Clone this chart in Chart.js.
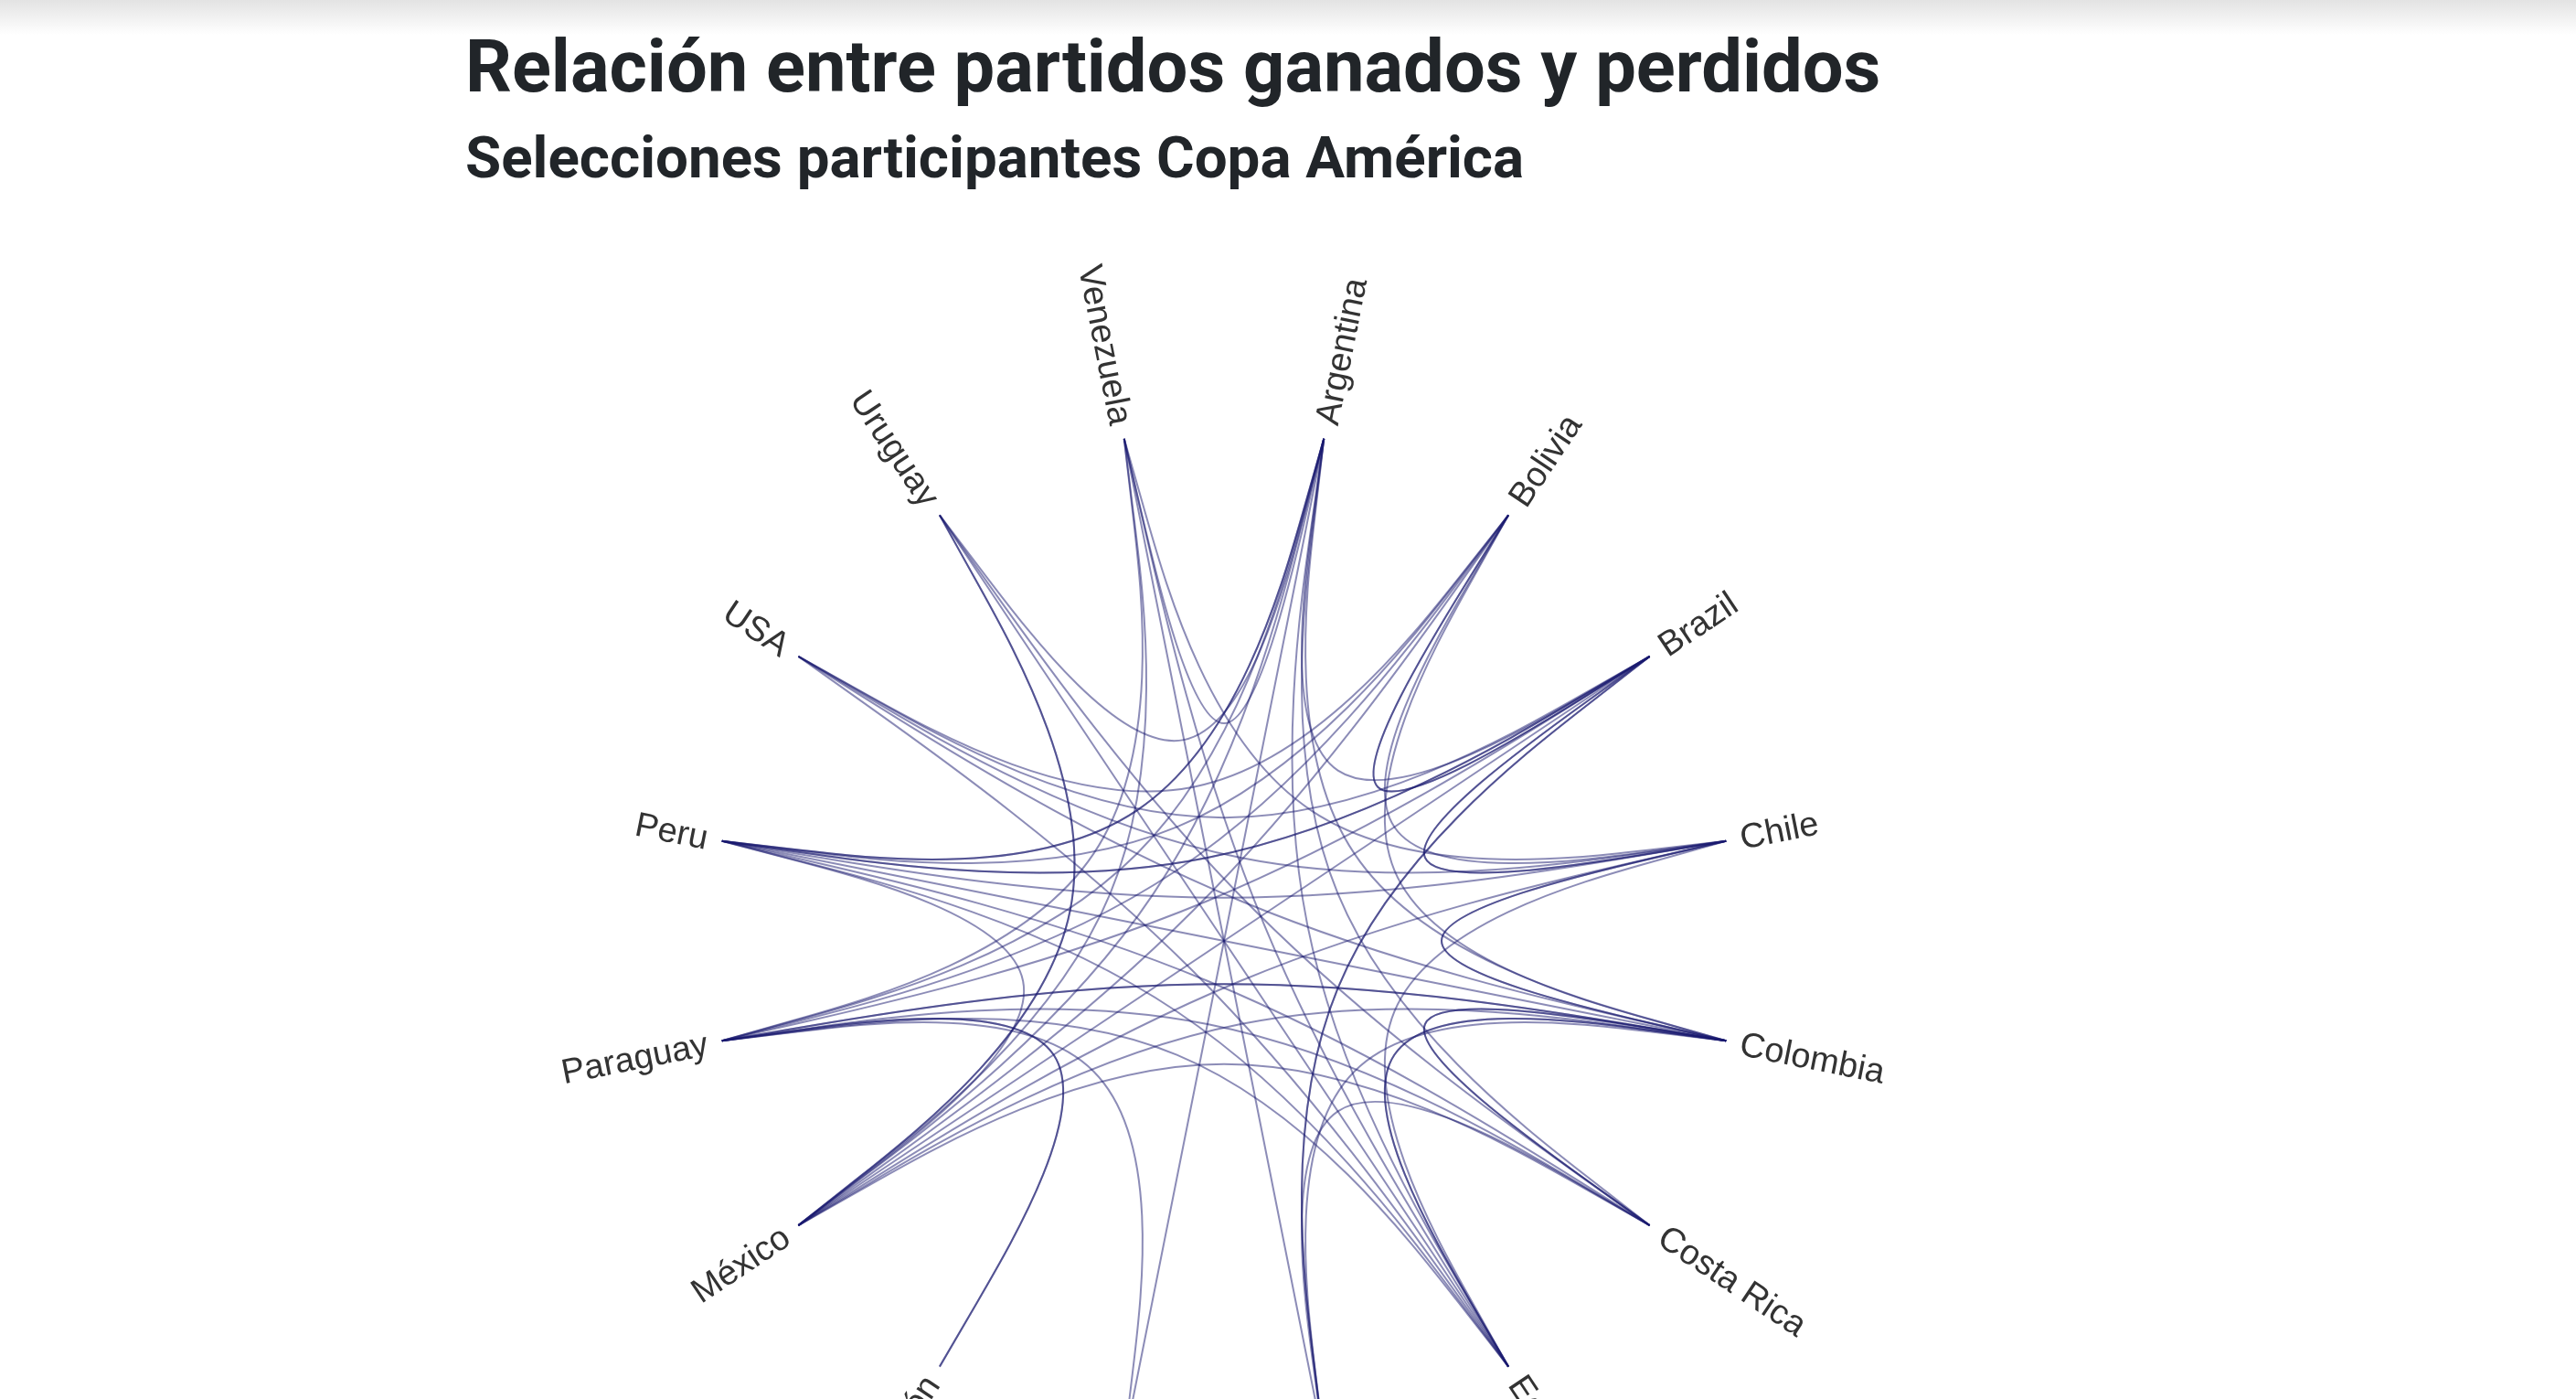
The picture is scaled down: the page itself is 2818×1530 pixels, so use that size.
<!DOCTYPE html>
<html lang="es">
<head>
<meta charset="utf-8">
<title>Relación entre partidos ganados y perdidos</title>
<script src="https://cdn.jsdelivr.net/npm/chart.js@4.4.0/dist/chart.umd.min.js"></script>
<style>
  html, body { margin: 0; padding: 0; background: #fff; overflow: hidden; }
  body { width: 2818px; height: 1530px; position: relative; }
  .topbar { position: absolute; left: 0; top: 0; width: 100%; height: 38px; background: linear-gradient(#e3e3e3, #ffffff); }
  h1, h2 { position: absolute; left: 509px; margin: 0; font-family: Roboto, sans-serif; font-weight: 700; color: #212529; line-height: 1; white-space: nowrap; z-index: 2; }
  h1 { top: 33px; font-size: 79.5px; }
  h2 { top: 141px; font-size: 63.7px; }
  #wrap { position: absolute; left: 0; top: 0; width: 2818px; height: 2160px; }
</style>
</head>
<body>
<div class="topbar"></div>
<h1>Relación entre partidos ganados y perdidos</h1>
<h2>Selecciones participantes Copa América</h2>
<div id="wrap"><canvas id="chord" width="2818" height="2160"></canvas></div>

<script>
// Selecciones (orden del círculo, empezando arriba y en sentido horario)
const teams = ["Argentina", "Bolivia", "Brazil", "Chile", "Colombia", "Costa Rica", "Ecuador",
  "Honduras", "Jamaica", "Japón", "México", "Paraguay", "Peru", "USA", "Uruguay", "Venezuela"];

// Partidos: una línea por cada par (equipo ganador / perdedor)
const edgeFrom = [
  "Uruguay", "Uruguay", "Uruguay", "Uruguay", "Japón", "Japón", "Jamaica", "Jamaica",
  "Honduras", "Honduras", "Honduras", "Honduras", "Honduras", "Ecuador", "Ecuador",
  "Brazil", "Brazil", "Chile", "Chile", "Colombia", "Colombia", "Bolivia", "Bolivia",
  "Argentina", "Venezuela", "Venezuela", "Venezuela", "Venezuela", "Venezuela",
  "Costa Rica", "Costa Rica", "Costa Rica", "Costa Rica", "Costa Rica",
  "Ecuador", "Ecuador", "Ecuador", "Ecuador", "Ecuador",
  "Chile", "Brazil", "Argentina", "Chile", "Chile", "Chile",
  "Colombia", "Colombia", "Colombia", "Colombia", "Colombia", "Colombia", "Colombia",
  "Brazil", "Brazil", "Brazil", "Brazil",
  "Bolivia", "Bolivia", "Bolivia", "Bolivia",
  "Argentina", "Argentina", "Argentina", "México"
];
const edgeTo = [
  "Argentina", "Ecuador", "México", "México", "Paraguay", "Paraguay", "Paraguay", "Argentina",
  "Brazil", "Brazil", "Costa Rica", "Venezuela", "Colombia", "Colombia", "Colombia",
  "Chile", "Chile", "Colombia", "Colombia", "Costa Rica", "Costa Rica", "Brazil", "Brazil",
  "Brazil", "Argentina", "Paraguay", "México", "Ecuador", "Chile",
  "Paraguay", "Peru", "Argentina", "México", "Uruguay",
  "Argentina", "Peru", "Paraguay", "USA", "Chile",
  "Peru", "Peru", "Peru", "México", "USA", "Bolivia",
  "Peru", "Paraguay", "Paraguay", "México", "Argentina", "Bolivia", "USA",
  "México", "Paraguay", "Peru", "USA",
  "Paraguay", "Peru", "México", "USA",
  "Paraguay", "México", "Peru", "Peru"
];

const BETA = 0.85;
const RADIUS_PX = 560;
const CENTER = { x: 1339, y: 1029 };
const step = 360 / teams.length;
const angleDeg = i => i * step + step / 2;
const rad = d => d * Math.PI / 180;

const canvas = document.getElementById('chord');
const W = canvas.width, H = canvas.height;

// Posición de cada selección sobre el círculo unidad
const nodeData = teams.map((t, i) => ({ x: Math.sin(rad(angleDeg(i))), y: Math.cos(rad(angleDeg(i))) }));

// Líneas agrupadas (bundle beta 0.85 + B-spline) entre cada par
const edgesPlugin = {
  id: 'edges',
  beforeDatasetsDraw(chart) {
    const { ctx, scales: { x, y } } = chart;
    const pts = chart.getDatasetMeta(0).data;
    const c = { x: x.getPixelForValue(0), y: y.getPixelForValue(0) };
    ctx.save();
    ctx.strokeStyle = 'rgba(25, 25, 112, 0.5)';
    ctx.lineWidth = 2;
    edgeFrom.forEach((from, k) => {
      const a = pts[teams.indexOf(from)], b = pts[teams.indexOf(edgeTo[k])];
      const p0 = { x: a.x, y: a.y }, p2 = { x: b.x, y: b.y };
      const mid = { x: (p0.x + p2.x) / 2, y: (p0.y + p2.y) / 2 };
      const p1 = { x: BETA * c.x + (1 - BETA) * mid.x, y: BETA * c.y + (1 - BETA) * mid.y };
      const mix = (u, v, w, s) => ({ x: (u.x * s[0] + v.x * s[1] + w.x * s[2]) / 6, y: (u.y * s[0] + v.y * s[1] + w.y * s[2]) / 6 });
      ctx.beginPath();
      ctx.moveTo(p0.x, p0.y);
      let q = mix(p0, p1, p2, [5, 1, 0]); ctx.lineTo(q.x, q.y);
      let c1 = mix(p0, p1, p2, [4, 2, 0]), c2 = mix(p0, p1, p2, [2, 4, 0]), e = mix(p0, p1, p2, [1, 4, 1]);
      ctx.bezierCurveTo(c1.x, c1.y, c2.x, c2.y, e.x, e.y);
      c1 = mix(p0, p1, p2, [0, 4, 2]); c2 = mix(p0, p1, p2, [0, 2, 4]); e = mix(p0, p1, p2, [0, 1, 5]);
      ctx.bezierCurveTo(c1.x, c1.y, c2.x, c2.y, e.x, e.y);
      ctx.lineTo(p2.x, p2.y);
      ctx.stroke();
    });
    ctx.restore();
  }
};

// Nombres de las selecciones, girados según su ángulo
const labelsPlugin = {
  id: 'teamLabels',
  afterDatasetsDraw(chart) {
    const { ctx } = chart;
    const pts = chart.getDatasetMeta(0).data;
    ctx.save();
    ctx.font = '38px "Liberation Sans", Arial, sans-serif';
    ctx.fillStyle = '#333333';
    ctx.textBaseline = 'middle';
    pts.forEach((p, i) => {
      const deg = angleDeg(i);
      ctx.save();
      ctx.translate(p.x, p.y);
      ctx.rotate(rad(deg - 90));
      if (deg < 180) {
        ctx.textAlign = 'left';
        ctx.fillText(teams[i], 16, 2);
      } else {
        ctx.rotate(Math.PI);
        ctx.textAlign = 'right';
        ctx.fillText(teams[i], -16, 2);
      }
      ctx.restore();
    });
    ctx.restore();
  }
};

new Chart(canvas, {
  type: 'scatter',
  data: {
    labels: teams,
    datasets: [{
      label: 'Selecciones',
      data: nodeData,
      pointRadius: 0,
      pointHoverRadius: 0,
      showLine: false
    }]
  },
  options: {
    responsive: false,
    animation: false,
    devicePixelRatio: 1,
    layout: { padding: 0 },
    plugins: {
      legend: { display: false },
      tooltip: { enabled: false }
    },
    scales: {
      x: { type: 'linear', display: false, min: -CENTER.x / RADIUS_PX, max: (W - CENTER.x) / RADIUS_PX },
      y: { type: 'linear', display: false, min: -(H - CENTER.y) / RADIUS_PX, max: CENTER.y / RADIUS_PX }
    }
  },
  plugins: [edgesPlugin, labelsPlugin]
});
</script>
</body>
</html>
